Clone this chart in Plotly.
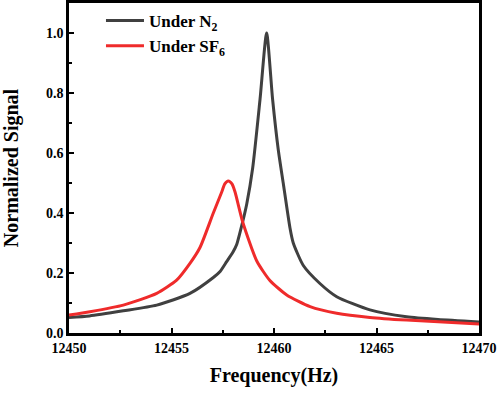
import plotly.graph_objects as go

# Values
n2_freq = [12450.0, 12451.0, 12452.65, 12454.28, 12455.9, 12457.04, 12457.37, 12457.69, 12458.0,
           12458.18, 12458.47, 12458.67, 12458.96, 12459.32, 12459.64, 12459.93, 12460.21, 12460.45,
           12460.78, 12460.94, 12461.43, 12462.24, 12463.06, 12464.68, 12466.47, 12468.0, 12470.0]
n2_signal = [0.052, 0.057, 0.074, 0.093, 0.132, 0.185, 0.205, 0.238, 0.27,
             0.295, 0.37, 0.43, 0.55, 0.78, 1.0, 0.78, 0.61, 0.50,
             0.35, 0.30, 0.225, 0.165, 0.121, 0.077, 0.054, 0.045, 0.037]

sf6_freq = [12450.0, 12451.02, 12452.65, 12454.28, 12455.25, 12455.9, 12456.39, 12457.04,
            12457.45, 12457.6, 12457.77, 12457.95, 12458.1, 12458.47, 12459.16, 12459.8,
            12460.62, 12461.76, 12463.06, 12464.68, 12466.47, 12470.0]
sf6_signal = [0.060, 0.071, 0.093, 0.132, 0.176, 0.232, 0.285, 0.40,
              0.47, 0.497, 0.507, 0.497, 0.47, 0.371, 0.24, 0.175,
              0.127, 0.088, 0.066, 0.052, 0.043, 0.030]

series_names = ["Under N<sub>2</sub>", "Under SF<sub>6</sub>"]
x_ticks = [12450, 12455, 12460, 12465, 12470]
y_ticks = [0.0, 0.2, 0.4, 0.6, 0.8, 1.0]

FONT = "Times New Roman"

fig = go.Figure()
fig.add_trace(go.Scatter(x=n2_freq, y=n2_signal, mode="lines", name=series_names[0],
                         line=dict(color="#404040", width=3, shape="spline", smoothing=0.6)))
fig.add_trace(go.Scatter(x=sf6_freq, y=sf6_signal, mode="lines", name=series_names[1],
                         line=dict(color="#ef2b2b", width=3, shape="spline", smoothing=0.6)))

axis_common = dict(
    showline=True, linecolor="black", linewidth=2.5, mirror=True,
    ticks="inside", ticklen=5, tickwidth=2, tickcolor="black",
    showgrid=False, zeroline=False, automargin=False,
    tickfont=dict(family=FONT, size=14, color="black", weight="bold"),
)

fig.update_xaxes(range=[12450, 12470], tickvals=x_ticks, ticktext=[str(v) for v in x_ticks],
                 minor=dict(ticks="inside", ticklen=3, tickwidth=2, tickcolor="black", dtick=2.5),
                 title=dict(text="Frequency(Hz)", font=dict(family=FONT, size=20, color="black", weight="bold"),
                            standoff=14),
                 **axis_common)
fig.update_yaxes(range=[0, 1.1], tickvals=y_ticks, ticktext=[f"{v:.1f}" for v in y_ticks],
                 minor=dict(ticks="inside", ticklen=3, tickwidth=2, tickcolor="black", dtick=0.1),
                 title=dict(text="Normalized Signal", font=dict(family=FONT, size=20, color="black", weight="bold"),
                            standoff=24),
                 **axis_common)

fig.update_layout(
    width=498, height=393,
    margin=dict(l=69, r=19, t=3, b=60, autoexpand=False),
    plot_bgcolor="white", paper_bgcolor="white",
    legend=dict(x=0.078, y=1.0, xanchor="left", yanchor="top", itemwidth=38,
                font=dict(family=FONT, size=17, color="black", weight="bold"),
                bgcolor="rgba(0,0,0,0)", tracegroupgap=0),
)

fig.write_html("out.html", config={"displayModeBar": False},
               post_script="document.body.style.margin='0';")
